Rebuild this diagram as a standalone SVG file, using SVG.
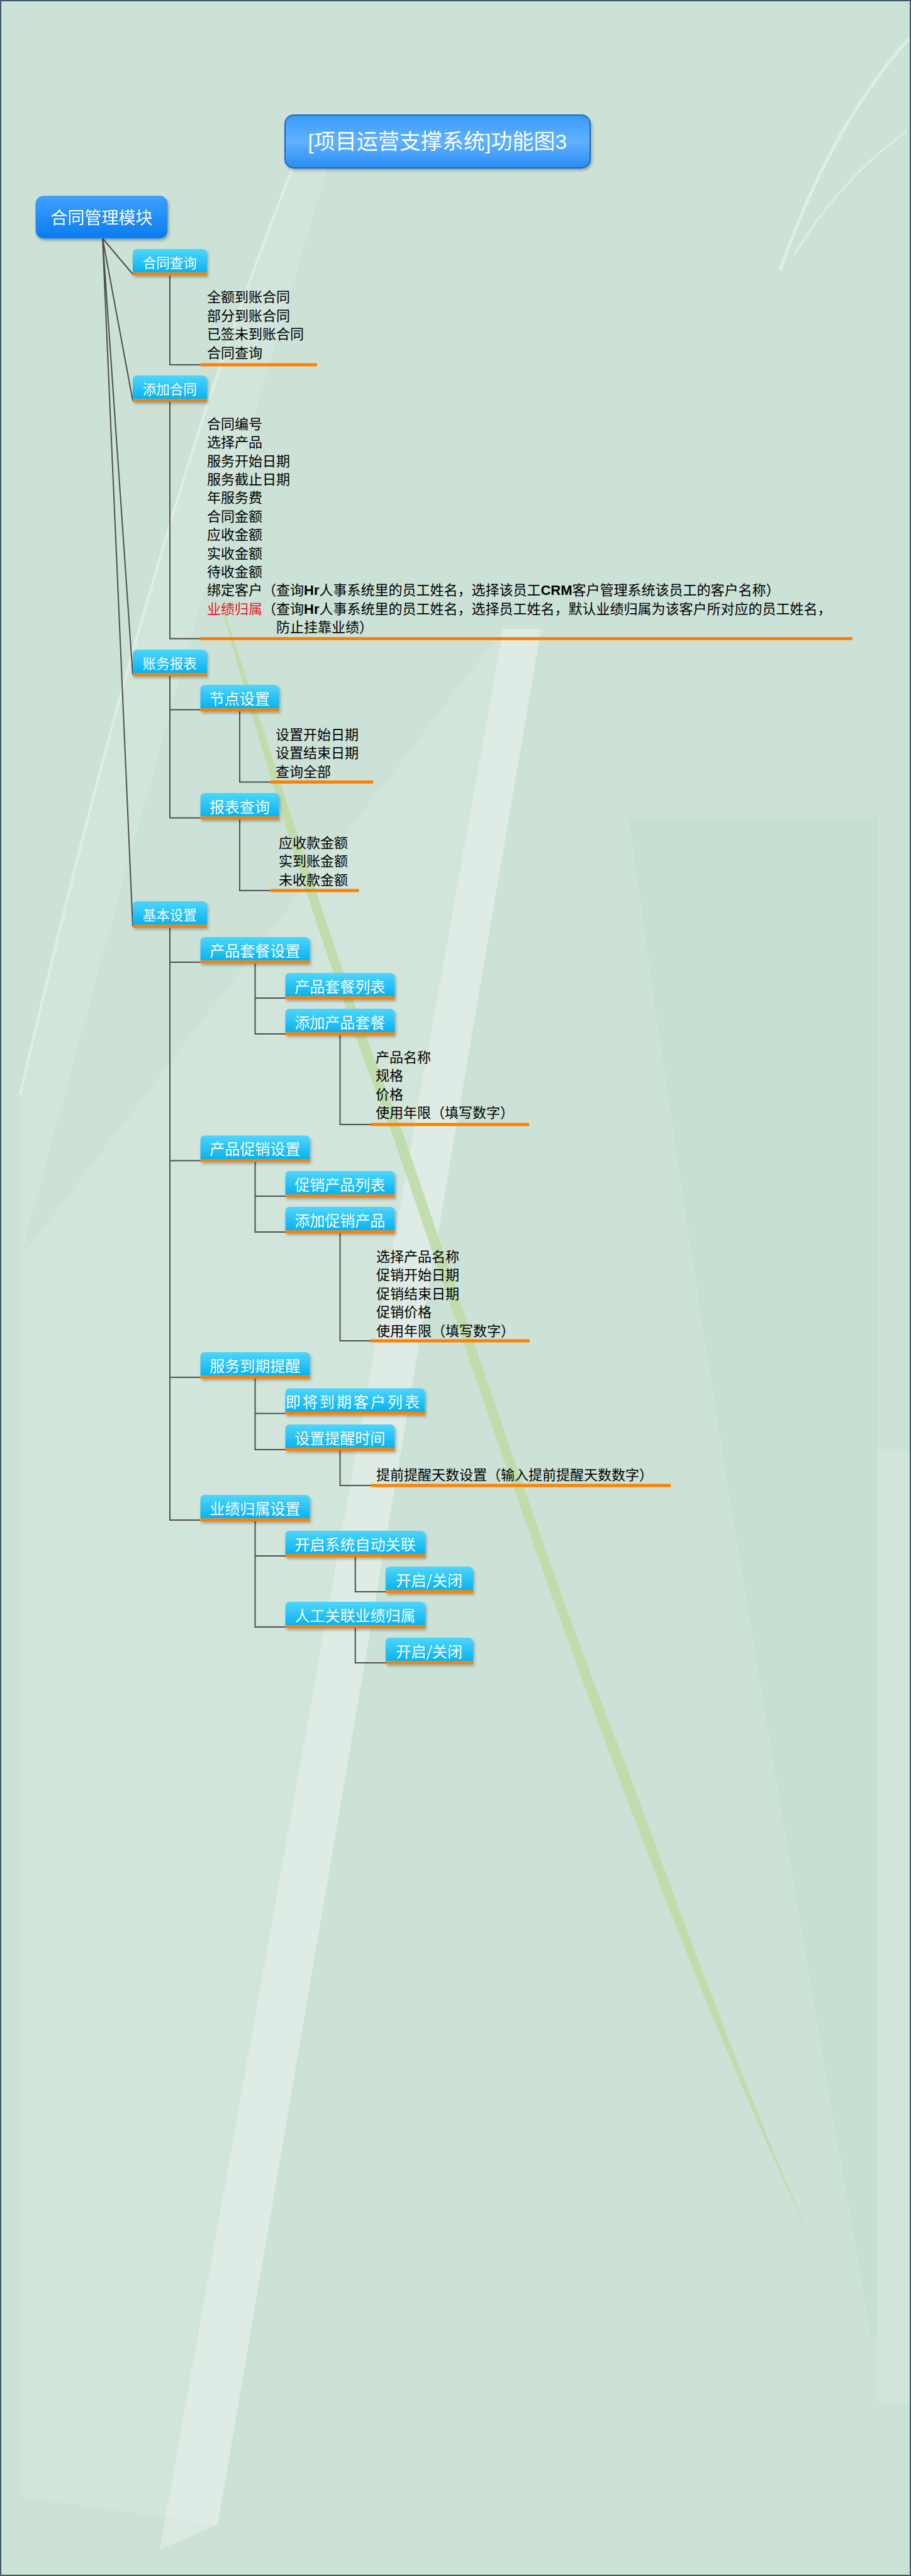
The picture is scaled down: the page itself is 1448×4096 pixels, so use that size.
<svg xmlns="http://www.w3.org/2000/svg" width="1448" height="4096" viewBox="0 0 1448 4096">
<defs>
<linearGradient id="gNode" x1="0" y1="0" x2="0" y2="1">
<stop offset="0" stop-color="#4dd6ff"/>
<stop offset="1" stop-color="#08b2ef"/>
</linearGradient>
<linearGradient id="gRoot" x1="0" y1="0" x2="0" y2="1">
<stop offset="0" stop-color="#3fa0ff"/>
<stop offset="1" stop-color="#0a7cee"/>
</linearGradient>
<linearGradient id="gTitle" x1="0" y1="0" x2="0" y2="1">
<stop offset="0" stop-color="#3b9cfd"/>
<stop offset="0.5" stop-color="#5fb1ff"/>
<stop offset="1" stop-color="#2a8df4"/>
</linearGradient>
<filter id="sh" x="-10%" y="-20%" width="130%" height="160%">
<feDropShadow dx="2" dy="3" stdDeviation="2" flood-color="#000" flood-opacity="0.28"/>
</filter>
</defs>
<style>
.nb{fill:url(#gNode)}
.bar{fill:#ff8000}
.ul{fill:#ff8000}
.nt1{font-family:"Noto Sans CJK SC",sans-serif;font-size:21.5px;fill:#fff;text-anchor:middle;dominant-baseline:central}
.nt{font-family:"Noto Sans CJK SC",sans-serif;font-size:24px;fill:#fff;text-anchor:middle;dominant-baseline:central}
.tx{font-family:"Noto Sans CJK SC",sans-serif;font-size:22px;fill:#000}
.lat{font-family:"Liberation Sans",sans-serif;font-weight:bold}
.cn{fill:none;stroke:#4f4f4f;stroke-width:2}
</style>

<!-- background -->
<g id="background">
<rect x="0" y="0" width="1448" height="4096" fill="#cce2d7"/>
<path d="M470,255 L530,235 Q330,900 32,2000 L32,1740 Q250,800 470,255 Z" fill="#ffffff" opacity="0.12"/>
<path d="M470,255 Q250,800 32,1740" fill="none" stroke="#ffffff" stroke-width="4" opacity="0.35"/>
<path d="M32,2000 L32,3970 Q180,3990 346,4015 L860,1000 L800,1000 Z" fill="#ffffff" opacity="0.12"/>
<path d="M800,1000 L860,1000 L346,4015 L254,4054 Z" fill="#ffffff" opacity="0.28"/>
<path d="M1446,60 Q1320,200 1240,430" fill="none" stroke="#ffffff" stroke-width="5" opacity="0.4"/>
<path d="M1440,210 Q1340,280 1262,405" fill="none" stroke="#ffffff" stroke-width="3" opacity="0.35"/>
<path d="M1000,1300 C1120,2200 1280,3100 1384,3715 L1395,3715 L1395,1300 Z" fill="#b9d4c6" opacity="0.25"/>
<path d="M1393,2306 L1446,2306 L1446,3820 L1393,3820 Z" fill="#ffffff" opacity="0.1"/>
<path d="M345,940 C420,1150 520,1500 640,1800 C760,2150 880,2520 1000,2820 C1110,3120 1200,3360 1291,3565 C1180,3330 1090,3110 985,2830 C870,2530 745,2160 624,1805 C505,1500 405,1160 345,940 Z" fill="#bedaa3" opacity="0.85"/>
<rect x="1" y="1" width="1446" height="4094" fill="none" stroke="#3c5a6e" stroke-width="2"/>
</g>

<!-- connectors -->
<g id="connectors">
<path class="cn" d="M163,379 L211,436 M163,379 L211,637 M163,379 L211,1073 M163,379 L211,1473"/>
<path class="cn" d="M270,438 V580 H318.5"/>
<path class="cn" d="M270,639 V1015.5 H318"/>
<path class="cn" d="M270,1075 V1300.5 H318.5 M270,1128.5 H318.5"/>
<path class="cn" d="M381,1131 V1243.5 H429.5"/>
<path class="cn" d="M381,1303 V1416 H429.5"/>
<path class="cn" d="M270,1475.5 V2417 H318.5 M270,1530 H318.5 M270,1845.5 H318.5 M270,2190 H318.5"/>
<path class="cn" d="M405.5,1532 V1644 H453.5 M405.5,1587 H453.5"/>
<path class="cn" d="M540.5,1646 V1788 H589"/>
<path class="cn" d="M405.5,1847.5 V1959 H453.5 M405.5,1902 H453.5"/>
<path class="cn" d="M540.5,1961 V2132 H589"/>
<path class="cn" d="M405.5,2192 V2305 H453.5 M405.5,2247.5 H453.5"/>
<path class="cn" d="M540.5,2307 V2362 H589"/>
<path class="cn" d="M405.5,2419 V2587 H453.5 M405.5,2474 H453.5"/>
<path class="cn" d="M564.75,2476 V2531 H613"/>
<path class="cn" d="M564.75,2589 V2644 H613"/>
</g>

<!-- title -->
<g id="title" filter="url(#sh)">
<rect x="453" y="183" width="485" height="84" rx="14" fill="url(#gTitle)" stroke="#1a68c0" stroke-width="2"/>
<text x="695.5" y="225" font-family="'Liberation Sans','Noto Sans CJK SC',sans-serif" font-size="34" fill="#fff" text-anchor="middle" dominant-baseline="central">[项目运营支撑系统]功能图3</text>
</g>

<!-- root -->
<g id="root" filter="url(#sh)">
<rect x="57" y="312" width="209" height="67" rx="12" fill="url(#gRoot)" stroke="#2a88ec" stroke-width="1"/>
<text x="161.5" y="344" font-family="'Noto Sans CJK SC',sans-serif" font-size="27" fill="#fff" text-anchor="middle" dominant-baseline="central">合同管理模块</text>
</g>

<!-- level 1 -->
<g id="n-htcx" filter="url(#sh)">
<path class="nb" d="M211,433.5 V403 Q211,396 218,396 H321 Q329,396 329,404 V433.5 Z"/>
<rect class="bar" x="211" y="433.5" width="118" height="4.5"/>
<text class="nt1" x="270" y="416">合同查询</text>
</g>
<g id="n-tjht" filter="url(#sh)">
<path class="nb" d="M211,634.5 V604 Q211,597 218,597 H321 Q329,597 329,605 V634.5 Z"/>
<rect class="bar" x="211" y="634.5" width="118" height="4.5"/>
<text class="nt1" x="270" y="617">添加合同</text>
</g>
<g id="n-zwbb" filter="url(#sh)">
<path class="nb" d="M211,1070.5 V1040 Q211,1033 218,1033 H321 Q329,1033 329,1041 V1070.5 Z"/>
<rect class="bar" x="211" y="1070.5" width="118" height="4.5"/>
<text class="nt1" x="270" y="1053">账务报表</text>
</g>
<g id="n-jbsz" filter="url(#sh)">
<path class="nb" d="M211,1470.5 V1440 Q211,1433 218,1433 H321 Q329,1433 329,1441 V1470.5 Z"/>
<rect class="bar" x="211" y="1470.5" width="118" height="4.5"/>
<text class="nt1" x="270" y="1453">基本设置</text>
</g>

<!-- 合同查询 list -->
<g id="list-htcx">
<rect class="ul" x="318.5" y="577.5" width="185.5" height="5"/>
<text class="tx" x="329" y="480">全额到账合同</text>
<text class="tx" x="329" y="509.5">部分到账合同</text>
<text class="tx" x="329" y="539">已签未到账合同</text>
<text class="tx" x="329" y="568.5">合同查询</text>
</g>

<!-- 添加合同 list -->
<g id="list-tjht">
<rect class="ul" x="318" y="1013" width="1037" height="5"/>
<text class="tx" x="329" y="682">合同编号</text>
<text class="tx" x="329" y="711.4">选择产品</text>
<text class="tx" x="329" y="740.7">服务开始日期</text>
<text class="tx" x="329" y="770">服务截止日期</text>
<text class="tx" x="329" y="799.4">年服务费</text>
<text class="tx" x="329" y="828.8">合同金额</text>
<text class="tx" x="329" y="858.1">应收金额</text>
<text class="tx" x="329" y="887.5">实收金额</text>
<text class="tx" x="329" y="916.8">待收金额</text>
<text class="tx" x="329" y="946.2">绑定客户（查询<tspan class="lat">Hr</tspan>人事系统里的员工姓名，选择该员工<tspan class="lat">CRM</tspan>客户管理系统该员工的客户名称）</text>
<text class="tx" x="329" y="975.5"><tspan fill="#e8191e">业绩归属</tspan>（查询<tspan class="lat">Hr</tspan>人事系统里的员工姓名，选择员工姓名，默认业绩归属为该客户所对应的员工姓名，</text>
<text class="tx" x="439" y="1004.9">防止挂靠业绩）</text>
</g>

<!-- 账务报表 children -->
<g id="n-jdsz" filter="url(#sh)">
<path class="nb" d="M318.5,1126.5 V1096 Q318.5,1089 325.5,1089 H435.5 Q443.5,1089 443.5,1097 V1126.5 Z"/>
<rect class="bar" x="318.5" y="1126.5" width="125" height="4.5"/>
<text class="nt" x="381" y="1109">节点设置</text>
</g>
<g id="n-bbcx" filter="url(#sh)">
<path class="nb" d="M318.5,1298.5 V1268 Q318.5,1261 325.5,1261 H435.5 Q443.5,1261 443.5,1269 V1298.5 Z"/>
<rect class="bar" x="318.5" y="1298.5" width="125" height="4.5"/>
<text class="nt" x="381" y="1281">报表查询</text>
</g>
<g id="list-jdsz">
<rect class="ul" x="429.5" y="1241" width="163.5" height="5"/>
<text class="tx" x="438" y="1175.5">设置开始日期</text>
<text class="tx" x="438" y="1205">设置结束日期</text>
<text class="tx" x="438" y="1234.5">查询全部</text>
</g>
<g id="list-bbcx">
<rect class="ul" x="429.5" y="1413.5" width="141" height="5"/>
<text class="tx" x="443" y="1347.5">应收款金额</text>
<text class="tx" x="443" y="1377">实到账金额</text>
<text class="tx" x="443" y="1406.5">未收款金额</text>
</g>

<!-- 基本设置 children -->
<g id="n-cptcsz" filter="url(#sh)">
<path class="nb" d="M318.5,1527.5 V1497 Q318.5,1490 325.5,1490 H484.5 Q492.5,1490 492.5,1498 V1527.5 Z"/>
<rect class="bar" x="318.5" y="1527.5" width="174" height="4.5"/>
<text class="nt" x="405.5" y="1510">产品套餐设置</text>
</g>
<g id="n-cptclb" filter="url(#sh)">
<path class="nb" d="M453.5,1584.5 V1554 Q453.5,1547 460.5,1547 H619.5 Q627.5,1547 627.5,1555 V1584.5 Z"/>
<rect class="bar" x="453.5" y="1584.5" width="174" height="4.5"/>
<text class="nt" x="540.5" y="1567">产品套餐列表</text>
</g>
<g id="n-tjcptc" filter="url(#sh)">
<path class="nb" d="M453.5,1641.5 V1611 Q453.5,1604 460.5,1604 H619.5 Q627.5,1604 627.5,1612 V1641.5 Z"/>
<rect class="bar" x="453.5" y="1641.5" width="174" height="4.5"/>
<text class="nt" x="540.5" y="1624">添加产品套餐</text>
</g>
<g id="list-tjcptc">
<rect class="ul" x="589" y="1785.5" width="252" height="5"/>
<text class="tx" x="597" y="1688.5">产品名称</text>
<text class="tx" x="597" y="1718">规格</text>
<text class="tx" x="597" y="1747.5">价格</text>
<text class="tx" x="597" y="1777">使用年限（填写数字）</text>
</g>

<g id="n-cpcxsz" filter="url(#sh)">
<path class="nb" d="M318.5,1843 V1812.5 Q318.5,1805.5 325.5,1805.5 H484.5 Q492.5,1805.5 492.5,1813.5 V1843 Z"/>
<rect class="bar" x="318.5" y="1843" width="174" height="4.5"/>
<text class="nt" x="405.5" y="1825.5">产品促销设置</text>
</g>
<g id="n-cxcplb" filter="url(#sh)">
<path class="nb" d="M453.5,1899.5 V1869 Q453.5,1862 460.5,1862 H619.5 Q627.5,1862 627.5,1870 V1899.5 Z"/>
<rect class="bar" x="453.5" y="1899.5" width="174" height="4.5"/>
<text class="nt" x="540.5" y="1882">促销产品列表</text>
</g>
<g id="n-tjcxcp" filter="url(#sh)">
<path class="nb" d="M453.5,1956.5 V1926 Q453.5,1919 460.5,1919 H619.5 Q627.5,1919 627.5,1927 V1956.5 Z"/>
<rect class="bar" x="453.5" y="1956.5" width="174" height="4.5"/>
<text class="nt" x="540.5" y="1939">添加促销产品</text>
</g>
<g id="list-tjcxcp">
<rect class="ul" x="589" y="2129.5" width="253" height="5"/>
<text class="tx" x="598" y="2005.5">选择产品名称</text>
<text class="tx" x="598" y="2035">促销开始日期</text>
<text class="tx" x="598" y="2064.5">促销结束日期</text>
<text class="tx" x="598" y="2094">促销价格</text>
<text class="tx" x="598" y="2123.5">使用年限（填写数字）</text>
</g>

<g id="n-fwdqtx" filter="url(#sh)">
<path class="nb" d="M318.5,2187.5 V2157 Q318.5,2150 325.5,2150 H484.5 Q492.5,2150 492.5,2158 V2187.5 Z"/>
<rect class="bar" x="318.5" y="2187.5" width="174" height="4.5"/>
<text class="nt" x="405.5" y="2170">服务到期提醒</text>
</g>
<g id="n-jjdqkhlb" filter="url(#sh)">
<path class="nb" d="M453.5,2245 V2214.5 Q453.5,2207.5 460.5,2207.5 H667.5 Q675.5,2207.5 675.5,2215.5 V2245 Z"/>
<rect class="bar" x="453.5" y="2245" width="222" height="4.5"/>
<text class="nt" x="562" y="2227.5" letter-spacing="3">即将到期客户列表</text>
</g>
<g id="n-sztxsj" filter="url(#sh)">
<path class="nb" d="M453.5,2302.5 V2272 Q453.5,2265 460.5,2265 H619.5 Q627.5,2265 627.5,2273 V2302.5 Z"/>
<rect class="bar" x="453.5" y="2302.5" width="174" height="4.5"/>
<text class="nt" x="540.5" y="2285">设置提醒时间</text>
</g>
<g id="list-sztxsj">
<rect class="ul" x="589" y="2359.5" width="477" height="5"/>
<text class="tx" x="598" y="2352.5">提前提醒天数设置（输入提前提醒天数数字）</text>
</g>

<g id="n-yjgssz" filter="url(#sh)">
<path class="nb" d="M318.5,2414.5 V2384 Q318.5,2377 325.5,2377 H484.5 Q492.5,2377 492.5,2385 V2414.5 Z"/>
<rect class="bar" x="318.5" y="2414.5" width="174" height="4.5"/>
<text class="nt" x="405.5" y="2397">业绩归属设置</text>
</g>
<g id="n-kqxtzdgl" filter="url(#sh)">
<path class="nb" d="M453.5,2471.5 V2441 Q453.5,2434 460.5,2434 H668 Q676,2434 676,2442 V2471.5 Z"/>
<rect class="bar" x="453.5" y="2471.5" width="222.5" height="4.5"/>
<text class="nt" x="564.75" y="2454">开启系统自动关联</text>
</g>
<g id="n-kqgb1" filter="url(#sh)">
<path class="nb" d="M613,2528.5 V2498 Q613,2491 620,2491 H744 Q752,2491 752,2499 V2528.5 Z"/>
<rect class="bar" x="613" y="2528.5" width="139" height="4.5"/>
<text class="nt" x="682.5" y="2511">开启/关闭</text>
</g>
<g id="n-rgglyjgs" filter="url(#sh)">
<path class="nb" d="M453.5,2584.5 V2554 Q453.5,2547 460.5,2547 H668 Q676,2547 676,2555 V2584.5 Z"/>
<rect class="bar" x="453.5" y="2584.5" width="222.5" height="4.5"/>
<text class="nt" x="564.75" y="2567">人工关联业绩归属</text>
</g>
<g id="n-kqgb2" filter="url(#sh)">
<path class="nb" d="M613,2641.5 V2611 Q613,2604 620,2604 H744 Q752,2604 752,2612 V2641.5 Z"/>
<rect class="bar" x="613" y="2641.5" width="139" height="4.5"/>
<text class="nt" x="682.5" y="2624">开启/关闭</text>
</g>
</svg>
